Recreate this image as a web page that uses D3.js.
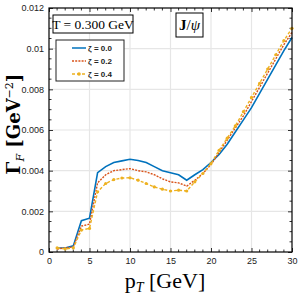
<!DOCTYPE html>
<html>
<head>
<meta charset="utf-8">
<script src="https://cdn.jsdelivr.net/npm/d3@7"></script>
<style>
  body { margin: 0; background: #fff; }
  svg { display: block; }
  .tick text { font-family: "Liberation Sans Narrow", "Liberation Sans", Arial, sans-serif; font-size: 9px; }
</style>
</head>
<body>
<div id="chart"></div>
<script>
// transverse momentum grid, GeV
const pT = d3.range(1, 31);

// Gamma_F for each zeta, GeV^-2
const zeta00 = [0.0002, 0.0002, 0.0003, 0.00154, 0.00166, 0.0039, 0.0042, 0.0044, 0.00448, 0.00456,
                0.0045, 0.0044, 0.0042, 0.0040, 0.0039, 0.0038, 0.00353, 0.0038, 0.00405, 0.0044,
                0.0048, 0.0053, 0.0059, 0.0065, 0.0071, 0.0078, 0.0085, 0.0092, 0.0099, 0.01055];
const zeta02 = [0.00015, 0.0002, 0.00025, 0.00127, 0.00137, 0.0034, 0.0038, 0.0040, 0.00405, 0.0041,
                0.0040, 0.00394, 0.0038, 0.0036, 0.00345, 0.0034, 0.00324, 0.00353, 0.00386, 0.0043,
                0.0049, 0.0055, 0.0061, 0.0067, 0.0074, 0.0081, 0.0088, 0.0095, 0.0102, 0.0108];
const zeta04 = [0.0002, 0.00015, 0.0002, 0.00108, 0.00116, 0.00296, 0.00337, 0.00356, 0.00364, 0.00365,
                0.00353, 0.00337, 0.0032, 0.00309, 0.0030, 0.00304, 0.0030, 0.00345, 0.00386, 0.00435,
                0.0050, 0.0056, 0.0062, 0.0069, 0.0076, 0.0083, 0.0090, 0.0097, 0.0104, 0.0110];

const seriesNames = ["ζ = 0.0", "ζ = 0.2", "ζ = 0.4"];
const seriesColors = ["#0072BD", "#D95319", "#EDB120"];
const xTicks = [0, 5, 10, 15, 20, 25, 30];
const yTicks = [0, 0.002, 0.004, 0.006, 0.008, 0.01, 0.012];

const width = 300, height = 300;
const margin = {top: 8, right: 8, bottom: 48, left: 49};
const w = width - margin.left - margin.right;
const h = height - margin.top - margin.bottom;

const svg = d3.select("#chart").append("svg")
    .attr("width", width)
    .attr("height", height);

const g = svg.append("g")
    .attr("transform", `translate(${margin.left},${margin.top})`);

const x = d3.scaleLinear().domain([0, 30]).range([0, w]);
const y = d3.scaleLinear().domain([0, 0.012]).range([h, 0]);

// grid
g.append("g").selectAll("line.vg")
    .data(xTicks.slice(1, -1))
    .join("line")
    .attr("x1", d => x(d)).attr("x2", d => x(d))
    .attr("y1", 0).attr("y2", h)
    .attr("stroke", "#e6e6e6").attr("stroke-width", 1.2);
g.append("g").selectAll("line.hg")
    .data(yTicks.slice(1, -1))
    .join("line")
    .attr("y1", d => y(d)).attr("y2", d => y(d))
    .attr("x1", 0).attr("x2", w)
    .attr("stroke", "#e6e6e6").attr("stroke-width", 1.2);

// axes, ticks inward
const fmtY = d => d === 0 ? "0" : d3.format("")(+d.toFixed(3));
g.append("g").attr("transform", `translate(0,${h})`)
    .call(d3.axisBottom(x).tickValues(xTicks).tickSize(-4).tickPadding(6))
    .call(a => a.select(".domain").remove());
g.append("g")
    .call(d3.axisLeft(y).tickValues(yTicks).tickSize(-4).tickPadding(5).tickFormat(fmtY))
    .call(a => a.select(".domain").remove());
g.append("g").attr("transform", `translate(0,0)`)
    .call(d3.axisTop(x).tickValues(xTicks).tickSize(-4).tickFormat(""))
    .call(a => a.select(".domain").remove());
g.append("g").attr("transform", `translate(${w},0)`)
    .call(d3.axisRight(y).tickValues(yTicks).tickSize(-4).tickFormat(""))
    .call(a => a.select(".domain").remove());

// minor ticks
const xMinor = d3.range(0, 31).filter(d => d % 5 !== 0);
const yMinor = d3.range(0, 25).map(i => i * 0.0005).filter((d, i) => i % 4 !== 0);
const minor = g.append("g").attr("stroke", "#000").attr("stroke-width", 0.8);
xMinor.forEach(d => {
    minor.append("line").attr("x1", x(d)).attr("x2", x(d)).attr("y1", h).attr("y2", h - 2.5);
    minor.append("line").attr("x1", x(d)).attr("x2", x(d)).attr("y1", 0).attr("y2", 2.5);
});
yMinor.forEach(d => {
    minor.append("line").attr("y1", y(d)).attr("y2", y(d)).attr("x1", 0).attr("x2", 2.5);
    minor.append("line").attr("y1", y(d)).attr("y2", y(d)).attr("x1", w).attr("x2", w - 2.5);
});

g.selectAll(".tick line").attr("stroke", "#000").attr("stroke-width", 0.8);
g.selectAll(".tick text").attr("fill", "#222");

// curves
const line = d3.line().x((d, i) => x(pT[i])).y(d => y(d));
const allSeries = [zeta00, zeta02, zeta04];
const dashes = [null, "2,1.2", "3,2"];
allSeries.forEach((s, k) => {
    g.append("path")
        .datum(s)
        .attr("fill", "none")
        .attr("stroke", seriesColors[k])
        .attr("stroke-width", k === 0 ? 1.6 : 1.4)
        .attr("stroke-dasharray", dashes[k])
        .attr("d", line);
});
g.append("g").selectAll("circle")
    .data(zeta04)
    .join("circle")
    .attr("cx", (d, i) => x(pT[i]))
    .attr("cy", d => y(d))
    .attr("r", 1.6)
    .attr("fill", seriesColors[2]);

// frame
g.append("rect")
    .attr("width", w).attr("height", h)
    .attr("fill", "none").attr("stroke", "#000").attr("stroke-width", 1.2);

// temperature box
const tBox = g.append("g").attr("transform", "translate(4,7)");
tBox.append("rect").attr("width", 80).attr("height", 18)
    .attr("fill", "#fff").attr("stroke", "#000").attr("stroke-width", 1);
tBox.append("text").attr("x", 40).attr("y", 14).attr("text-anchor", "middle")
    .attr("font-family", "'Liberation Serif', 'DejaVu Serif', serif").attr("font-size", 13.5)
    .text("T = 0.300 GeV");

// legend
const leg = g.append("g").attr("transform", "translate(7,32)");
leg.append("rect").attr("width", 68).attr("height", 41)
    .attr("fill", "#fff").attr("stroke", "#222").attr("stroke-width", 1);
seriesNames.forEach((name, k) => {
    const yy = 8 + k * 13;
    leg.append("line").attr("x1", 16).attr("x2", 30).attr("y1", yy).attr("y2", yy)
        .attr("stroke", seriesColors[k]).attr("stroke-width", 1.5)
        .attr("stroke-dasharray", dashes[k]);
    if (k === 2) leg.append("circle").attr("cx", 23).attr("cy", yy).attr("r", 1.8).attr("fill", seriesColors[k]);
    leg.append("text").attr("x", 32).attr("y", yy + 3)
        .attr("font-family", "'Liberation Sans Narrow', 'Liberation Sans', sans-serif")
        .attr("font-size", 8).attr("font-weight", "bold").attr("fill", "#222")
        .text(name);
});

// particle box
const pBox = g.append("g").attr("transform", "translate(127,5)");
pBox.append("rect").attr("width", 27).attr("height", 24)
    .attr("fill", "#fff").attr("stroke", "#000").attr("stroke-width", 1);
const pText = pBox.append("text").attr("x", 13.5).attr("y", 17).attr("text-anchor", "middle")
    .attr("font-family", "'Liberation Serif', 'DejaVu Serif', serif").attr("font-size", 15);
pText.append("tspan").attr("font-weight", "bold").text("J");
pText.append("tspan").text("/");
pText.append("tspan").attr("font-style", "italic").text("ψ");

// axis labels
const xl = svg.append("text")
    .attr("x", 165).attr("y", 288)
    .attr("text-anchor", "middle")
    .attr("font-family", "'Liberation Serif', 'DejaVu Serif', serif").attr("font-size", 22);
xl.append("tspan").text("p");
xl.append("tspan").attr("font-size", 14).attr("font-style", "italic").attr("dy", 4).text("T");
xl.append("tspan").attr("dy", -4).text(" [GeV]");

const yl = svg.append("text")
    .attr("transform", `translate(20,124) rotate(-90)`)
    .attr("text-anchor", "middle")
    .attr("font-family", "'DejaVu Serif', 'Liberation Serif', serif").attr("font-size", 18)
    .attr("font-weight", "bold");
yl.append("tspan").text("Γ");
yl.append("tspan").attr("font-size", 11).attr("font-style", "italic").attr("font-weight", "normal").attr("dy", 4).text("F");
yl.append("tspan").attr("dy", -4).text(" [GeV");
yl.append("tspan").attr("font-size", 11).attr("font-weight", "normal").attr("dy", -7).text("−2");
yl.append("tspan").attr("dy", 7).text("]");
</script>
</body>
</html>
